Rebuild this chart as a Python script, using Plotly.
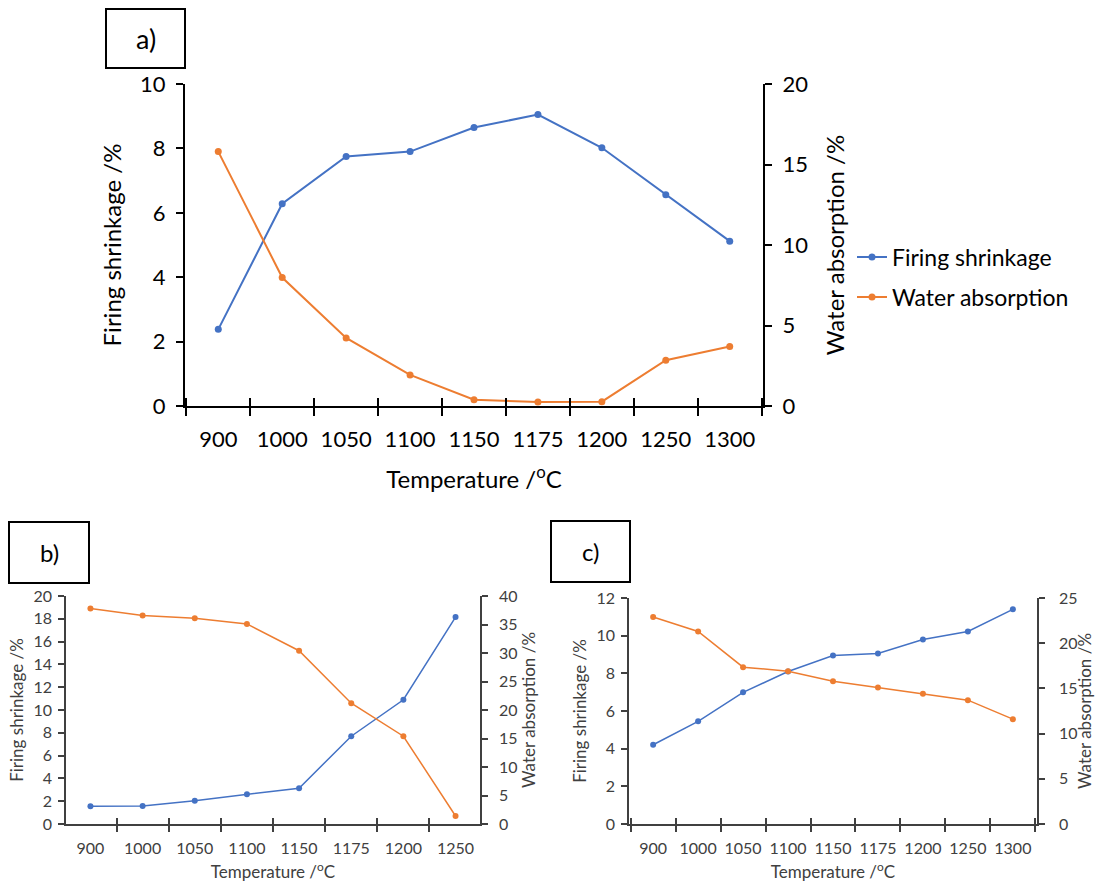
import plotly.graph_objects as go

# ---------------- data ----------------
temps_a = ["900", "1000", "1050", "1100", "1150", "1175", "1200", "1250", "1300"]
shrink_a = [2.38, 6.28, 7.75, 7.9, 8.65, 9.05, 8.02, 6.56, 5.12]
water_a = [15.8, 7.98, 4.23, 1.93, 0.39, 0.25, 0.27, 2.84, 3.69]

temps_b = ["900", "1000", "1050", "1100", "1150", "1175", "1200", "1250"]
shrink_b = [1.55, 1.58, 2.05, 2.6, 3.14, 7.7, 10.9, 18.15]
water_b = [37.8, 36.6, 36.1, 35.1, 30.4, 21.2, 15.4, 1.4]

temps_c = ["900", "1000", "1050", "1100", "1150", "1175", "1200", "1250", "1300"]
shrink_c = [4.21, 5.45, 6.99, 8.1, 8.95, 9.05, 9.8, 10.22, 11.4]
water_c = [22.9, 21.3, 17.35, 16.9, 15.8, 15.1, 14.4, 13.7, 11.6]

BLUE = "#4472C4"
ORANGE = "#ED7D31"
FONT = "Lato"
W, H = 1095, 885


def px(x):
    return x / W


def py(y):
    return 1 - y / H


fig = go.Figure()

panels = [
    # name, temps, shrink, water, xdom(px), ydom(px), yr1, dt1, yr2, dt2, big
    ("a", temps_a, shrink_a, water_a, (185, 763), (406, 84), 10, 2, 20, 5, True),
    ("b", temps_b, shrink_b, water_b, (66, 480), (824, 596), 20, 2, 40, 5, False),
    ("c", temps_c, shrink_c, water_c, (629, 1037), (824, 598), 12, 2, 25, 5, False),
]

layout_axes = {}
for i, (name, temps, sh, wa, xd, yd, yr1, dt1, yr2, dt2, big) in enumerate(panels):
    xa = "x" if i == 0 else f"x{i + 1}"
    xo = f"x{7 + i}"          # overlay category axis (upper half of crossing ticks)
    ya1 = "y" if i == 0 else f"y{2 * i + 1}"
    ya2 = f"y{2 * i + 2}"
    lw = 2 if big else 1.5
    ms = 7 if big else 6
    fig.add_trace(go.Scatter(
        x=temps, y=sh, name="Firing shrinkage", mode="lines+markers",
        line=dict(color=BLUE, width=lw), marker=dict(color=BLUE, size=ms),
        xaxis=xa, yaxis=ya1, showlegend=big, legend="legend"))
    fig.add_trace(go.Scatter(
        x=temps, y=wa, name="Water absorption", mode="lines+markers",
        line=dict(color=ORANGE, width=lw), marker=dict(color=ORANGE, size=ms),
        xaxis=xo, yaxis=ya2, showlegend=big, legend="legend2"))

    axcol = "#000000" if big else "#404040"
    txtcol = "#000000" if big else "#404040"
    tickfs = 22 if big else 16
    titlefs = 24 if big else 17
    alw = 2 if big else 1.5
    tlen = 8 if big else 6

    xkey = "xaxis" if i == 0 else f"xaxis{i + 1}"
    okey = f"xaxis{7 + i}"
    y1key = "yaxis" if i == 0 else f"yaxis{2 * i + 1}"
    y2key = f"yaxis{2 * i + 2}"

    layout_axes[xkey] = dict(
        domain=[px(xd[0]), px(xd[1])], anchor=ya1, type="category",
        categoryorder="array", categoryarray=temps,
        showline=True, linecolor=axcol, linewidth=alw,
        ticks="outside", tickson="boundaries", ticklen=tlen,
        tickwidth=alw, tickcolor=axcol, showgrid=False, zeroline=False,
        tickangle=0,
        tickfont=dict(family=FONT, size=tickfs, color=txtcol),
        ticklabelstandoff=13 if big else 9,
        title=dict(text="Temperature /<sup>o</sup>C",
                   font=dict(family=FONT, size=titlefs, color=txtcol),
                   standoff=20 if big else 10),
        automargin=False, fixedrange=True)
    layout_axes[okey] = dict(
        domain=[px(xd[0]), px(xd[1])], anchor=ya1, overlaying=xa, type="category",
        categoryorder="array", categoryarray=temps,
        ticks="inside", tickson="boundaries", ticklen=tlen, tickwidth=alw,
        tickcolor=axcol, showticklabels=False, showline=False, showgrid=False,
        zeroline=False, automargin=False, fixedrange=True)
    layout_axes[y1key] = dict(
        domain=[py(yd[0]), py(yd[1])], anchor=xa, range=[0, yr1], dtick=dt1,
        showline=True, linecolor=axcol, linewidth=alw,
        ticks="outside", ticklen=7 if big else 6, tickwidth=alw, tickcolor=axcol,
        showgrid=False, zeroline=False,
        tickfont=dict(family=FONT, size=tickfs, color=txtcol),
        ticklabelstandoff=6 if big else 3,
        title=dict(text="Firing shrinkage /%",
                   font=dict(family=FONT, size=titlefs, color=txtcol),
                   standoff=12 if big else 6),
        automargin=False, fixedrange=True)
    layout_axes[y2key] = dict(
        domain=[py(yd[0]), py(yd[1])], anchor=xa, overlaying=ya1, side="right",
        range=[0, yr2], dtick=dt2,
        showline=True, linecolor=axcol, linewidth=alw,
        ticks="outside", ticklen=7 if big else 6, tickwidth=alw, tickcolor=axcol,
        showgrid=False, zeroline=False,
        tickfont=dict(family=FONT, size=tickfs, color=txtcol),
        ticklabelstandoff=6 if big else (8 if i == 1 else 11),
        title=dict(text="Water absorption /%",
                   font=dict(family=FONT, size=titlefs, color=txtcol),
                   standoff=20 if big else (6 if i == 1 else 9)),
        automargin=False, fixedrange=True)

fig.update_layout(**layout_axes)

# panel label boxes
boxes = [("a)", 106, 9, 185, 68, 27), ("b)", 9, 522, 89, 583, 24), ("c)", 551, 521, 630, 582, 24)]
shapes = []
annotations = []
for txt, x0, y0, x1, y1, fs in boxes:
    shapes.append(dict(type="rect", xref="paper", yref="paper",
                       x0=px(x0), x1=px(x1), y0=py(y1), y1=py(y0),
                       line=dict(color="black", width=2), fillcolor="white"))
    annotations.append(dict(text=txt, xref="paper", yref="paper",
                            x=px((x0 + x1) / 2), y=py((y0 + y1) / 2),
                            xanchor="center", yanchor="middle", showarrow=False,
                            font=dict(family=FONT, size=fs, color="black")))

fig.update_layout(
    width=W, height=H, margin=dict(l=0, r=0, t=0, b=0),
    paper_bgcolor="white", plot_bgcolor="rgba(0,0,0,0)",
    shapes=shapes, annotations=annotations,
    legend=dict(x=px(852), y=py(257), xanchor="left", yanchor="middle",
                font=dict(family=FONT, size=23, color="black"),
                bgcolor="rgba(0,0,0,0)", itemwidth=30),
    legend2=dict(x=px(852), y=py(297), xanchor="left", yanchor="middle",
                 font=dict(family=FONT, size=23, color="black"),
                 bgcolor="rgba(0,0,0,0)", itemwidth=30),
)

fig.write_html("out.html")
